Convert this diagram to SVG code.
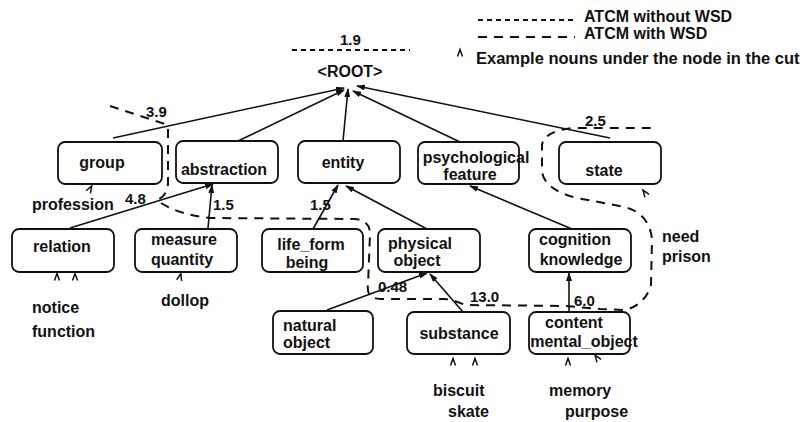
<svg xmlns="http://www.w3.org/2000/svg" width="807" height="422" viewBox="0 0 807 422">
<style>
.box{fill:#fff;stroke:#111;stroke-width:1.8}
.t{font-family:"Liberation Sans",Arial,Helvetica,sans-serif;font-weight:bold;font-size:16px;fill:#111}
.m{text-anchor:middle}
.w{font-size:15px}
.e{stroke:#111;stroke-width:1.6;fill:none;marker-end:url(#ah)}
.c1{stroke:#111;stroke-width:1.8;fill:none;stroke-dasharray:5 4}
.c2{stroke:#111;stroke-width:2;fill:none;stroke-dasharray:9 7}
.ex{stroke:#111;stroke-width:1.5;fill:none}
</style>
<defs>
<marker id="ah" markerUnits="userSpaceOnUse" markerWidth="9" markerHeight="6" refX="8" refY="3" orient="auto"><path d="M0,0 L9,3 L0,6 z" fill="#111"/></marker>
<path id="exm" d="M-2.5,3.5 L0,-3.5 L2.5,3.5"/>
</defs>
<rect width="807" height="422" fill="#fff"/>

<g id="legend">
<line class="c1" x1="478" y1="20" x2="573" y2="20"/>
<text class="t" x="584" y="22">ATCM without WSD</text>
<line class="c2" x1="478" y1="37" x2="575" y2="37"/>
<text class="t" x="584" y="39">ATCM with WSD</text>
<use href="#exm" class="ex" x="460" y="53"/>
<text class="t" x="476" y="64" style="font-size:16.5px">Example nouns under the node in the cut</text>
</g>

<g id="connectors">
<line class="e" x1="113" y1="138" x2="344" y2="88"/>
<line class="e" x1="238" y1="141" x2="344" y2="90"/>
<line class="e" x1="343" y1="141" x2="348" y2="89"/>
<line class="e" x1="460" y1="142" x2="353" y2="91"/>
<line class="e" x1="610" y1="138" x2="357" y2="86"/>
<line class="e" x1="70" y1="228" x2="213" y2="184"/>
<line class="e" x1="208" y1="228" x2="212" y2="185"/>
<line class="e" x1="313" y1="229" x2="338" y2="185"/>
<line class="e" x1="427" y1="229" x2="346" y2="186"/>
<line class="e" x1="572" y1="229" x2="470" y2="186"/>
<line class="e" x1="327" y1="310" x2="427" y2="273"/>
<line class="e" x1="463" y1="312" x2="430" y2="274"/>
<line class="e" x1="569" y1="312" x2="569" y2="273"/>
</g>

<g id="cuts">
<line class="c1" x1="292" y1="50" x2="410" y2="50"/>
<path class="c2" d="M110,106 L165,124"/>
<path class="c2" d="M168,129 L168,184 Q167,196 157,200"/>
<path class="c2" d="M161,203 Q180,215 210,218 L355,219 Q370,220 370,234 L368,285 Q366,298 380,299 L445,299 Q455,300 465,305 L565,306 L600,309 L625,310 Q645,305 651,285 L652,240 Q650,214 625,207 L577,198 Q545,190 542,172 L542,145 Q544,131 573,128 L652,128"/>
</g>

<g id="weights" class="t w">
<text x="340" y="45">1.9</text>
<text x="146" y="117">3.9</text>
<text x="125" y="204">4.8</text>
<text x="213" y="210">1.5</text>
<text x="310" y="210">1.5</text>
<text x="378" y="292">0.48</text>
<text x="470" y="302">13.0</text>
<text x="574" y="306">6.0</text>
<text x="585" y="126">2.5</text>
</g>

<g id="root"><text class="t m" x="350" y="77">&lt;ROOT&gt;</text></g>

<g id="group"><rect class="box" x="58" y="142" width="104" height="42" rx="7"/><text class="t m" x="102" y="168">group</text></g>
<g id="abstraction"><rect class="box" x="176" y="141" width="102" height="42" rx="7"/><text class="t m" x="224" y="175">abstraction</text></g>
<g id="entity"><rect class="box" x="298" y="141" width="102" height="42" rx="7"/><text class="t m" x="343" y="168">entity</text></g>
<g id="psychological_feature"><rect class="box" x="418" y="142" width="101" height="42" rx="7"/><text class="t m" x="476" y="163">psychological</text><text class="t m" x="470" y="180">feature</text></g>
<g id="state"><rect class="box" x="559" y="142" width="102" height="42" rx="7"/><text class="t m" x="604" y="176">state</text></g>

<g id="relation"><rect class="box" x="12" y="229" width="102" height="43" rx="7"/><text class="t m" x="62" y="252">relation</text></g>
<g id="measure_quantity"><rect class="box" x="135" y="229" width="102" height="43" rx="7"/><text class="t m" x="184" y="245">measure</text><text class="t m" x="182" y="265">quantity</text></g>
<g id="life_form_being"><rect class="box" x="262" y="229" width="101" height="43" rx="7"/><text class="t m" x="311" y="250">life_form</text><text class="t m" x="307" y="268">being</text></g>
<g id="physical_object"><rect class="box" x="378" y="229" width="102" height="43" rx="7"/><text class="t m" x="420" y="249">physical</text><text class="t m" x="417" y="266">object</text></g>
<g id="cognition_knowledge"><rect class="box" x="529" y="229" width="102" height="43" rx="7"/><text class="t m" x="575" y="245">cognition</text><text class="t m" x="581" y="265">knowledge</text></g>

<g id="natural_object"><rect class="box" x="273" y="311" width="100" height="43" rx="7"/><text class="t" x="283" y="331">natural</text><text class="t" x="283" y="348">object</text></g>
<g id="substance"><rect class="box" x="407" y="312" width="103" height="42" rx="7"/><text class="t m" x="459" y="339">substance</text></g>
<g id="content_mental_object"><rect class="box" x="529" y="312" width="101" height="42" rx="7"/><text class="t m" x="574" y="328">content</text><text class="t m" x="584" y="347">mental_object</text></g>

<g id="examples" class="ex">
<use href="#exm" x="0" y="0" transform="translate(90,189) rotate(30)"/>
<use href="#exm" x="57" y="277"/>
<use href="#exm" x="75" y="277"/>
<use href="#exm" x="0" y="0" transform="translate(180,277) rotate(15)"/>
<use href="#exm" x="453" y="362"/>
<use href="#exm" x="475" y="362"/>
<use href="#exm" x="568" y="362"/>
<use href="#exm" x="0" y="0" transform="translate(597,358) rotate(-35)"/>
<use href="#exm" x="0" y="0" transform="translate(645,193) rotate(-35)"/>
</g>

<g id="example_nouns" class="t">
<text x="32" y="210">profession</text>
<text x="32" y="313">notice</text>
<text x="32" y="337">function</text>
<text x="161" y="306">dollop</text>
<text x="433" y="396">biscuit</text>
<text x="448" y="417">skate</text>
<text x="549" y="396">memory</text>
<text x="565" y="417">purpose</text>
<text x="662" y="242">need</text>
<text x="662" y="262">prison</text>
</g>
</svg>
